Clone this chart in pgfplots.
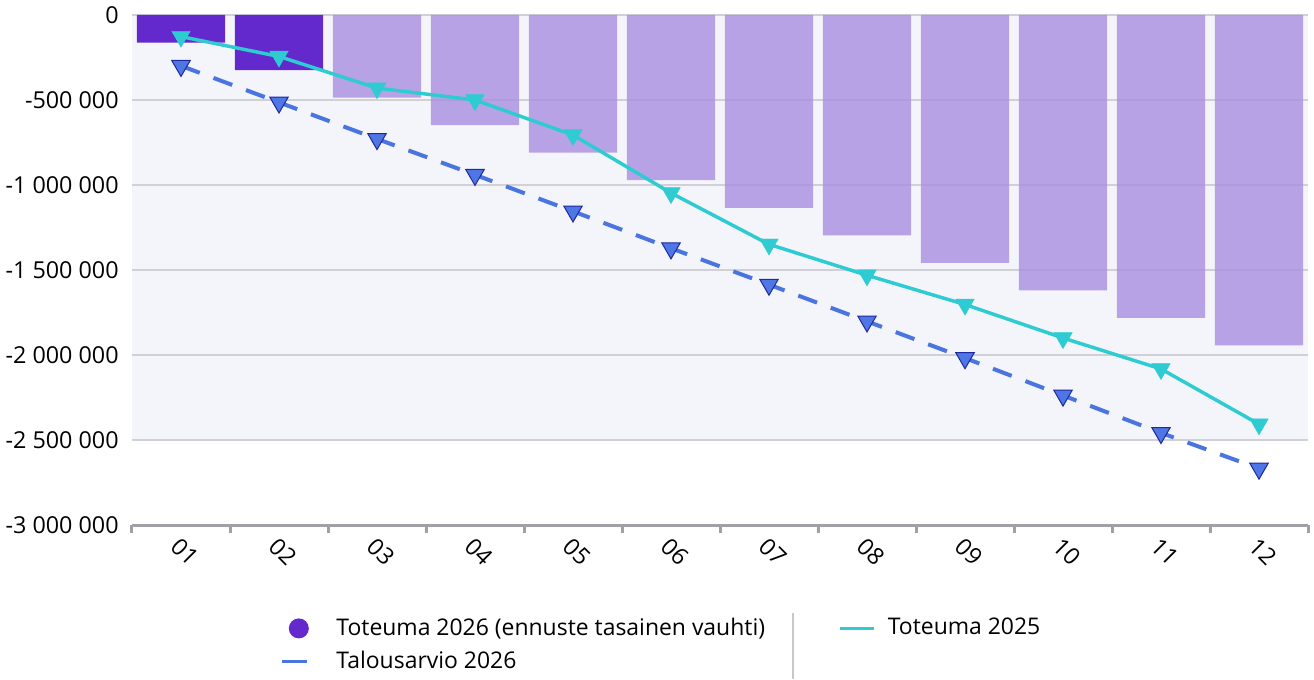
\documentclass[border=0pt]{standalone}
\usepackage{fontspec}
\setmainfont{Open Sans}
\usepackage{pgfplots}
\pgfplotsset{compat=1.18}
\definecolor{purpleD}{RGB}{99,41,204}
\definecolor{purpleL}{RGB}{169,142,225}
\definecolor{cyanC}{RGB}{46,204,210}
\definecolor{blueL}{RGB}{74,116,224}
\definecolor{blueM}{RGB}{78,118,228}
\definecolor{blueE}{RGB}{32,40,160}
\definecolor{gridC}{RGB}{208,208,214}
\definecolor{bgC}{RGB}{244,245,250}
\definecolor{axisC}{RGB}{160,160,166}
\definecolor{sepC}{RGB}{200,200,200}
\begin{document}
\fontsize{17.5}{21}\selectfont
\begin{tikzpicture}
\begin{axis}[
  set layers,
  scale only axis, width=882pt, height=382.5pt,
  xmin=-0.5, xmax=11.5, ymin=-3000000, ymax=0,
  axis lines*=left,
  x axis line style={draw=axisC, line width=2.25pt, -},
  y axis line style={draw=none},
  xtick={0,1,2,3,4,5,6,7,8,9,10,11},
  xticklabels={01,02,03,04,05,06,07,08,09,10,11,12},
  major x tick style={draw=none},
  minor xtick={-0.5,0.5,1.5,2.5,3.5,4.5,5.5,6.5,7.5,8.5,9.5,10.5,11.5},
  minor x tick style={draw=axisC, line width=2.25pt},
  minor tick length=6pt,
  major tick length=0pt,
  tick align=outside,
  xticklabel style={anchor=center, yshift=-20pt, xshift=3pt, rotate=-45},
  ytick={-3000000,-2500000,-2000000,-1500000,-1000000,-500000,0},
  yticklabels={-3 000 000,-2 500 000,-2 000 000,-1 500 000,-1 000 000,-500 000,0},
  ytick style={draw=none},
  yticklabel style={anchor=east, xshift=-4pt},
  ymajorgrids, grid style={draw=gridC, line width=1.5pt},
  legend columns=2,
  legend cell align=left,
  legend style={at={(axis description cs:0.1259,-0.1765)}, anchor=north west,
    draw=none, fill=none, inner sep=0pt, row sep=5pt, font=\fontsize{17.2}{21}\selectfont,
    /tikz/every even column/.append style={column sep=53pt}},
]
\begin{pgfonlayer}{axis background}
\fill[bgC] (axis cs:-0.5,0) rectangle (axis cs:11.5,-2500000);
\end{pgfonlayer}
\addplot[ybar, bar width=0.9, bar shift=0pt, fill=purpleD, draw=none,
  legend image code/.code={\fill[purpleD] (12.75pt,0pt) circle (7.5pt); \path[draw=none, fill=none] (0pt,-8pt) rectangle (39pt,8pt);}]
  coordinates {(0,-162000) (1,-324000)};
\addlegendentry{Toteuma 2026 (ennuste tasainen vauhti)}
\addplot[ybar, bar width=0.9, bar shift=0pt, fill=purpleL, fill opacity=0.8, draw=none, forget plot]
  coordinates {(2,-486000) (3,-648000) (4,-810000) (5,-972000) (6,-1134000) (7,-1296000) (8,-1458000) (9,-1620000) (10,-1782000) (11,-1944000)};
\addplot[cyanC, line width=2.6pt, mark=triangle*, mark size=8pt,
  mark options={solid, rotate=180, fill=cyanC, draw=cyanC, line width=0.3pt},
  legend image code/.code={\draw[cyanC, line width=2.25pt] (0pt,0pt) -- (25.5pt,0pt); \path[draw=none, fill=none] (0pt,-8pt) rectangle (34pt,8pt);}]
  coordinates {(0,-127000) (1,-244000) (2,-430000) (3,-500000) (4,-706000) (5,-1047000) (6,-1349000) (7,-1531000) (8,-1703000) (9,-1900000) (10,-2082000) (11,-2407000)};
\addlegendentry{Toteuma 2025}
\addplot[blueL, line width=3pt, dash pattern=on 15pt off 11pt, mark=triangle*, mark size=8pt,
  mark options={solid, rotate=180, fill=blueM, draw=blueE, line width=0.75pt},
  legend image code/.code={\draw[blueL, solid, line width=2.25pt] (0pt,0pt) -- (18.75pt,0pt); \path[draw=none, fill=none] (0pt,-8pt) rectangle (39pt,8pt);}]
  coordinates {(0,-299000) (1,-514000) (2,-729000) (3,-940000) (4,-1155000) (5,-1372000) (6,-1586000) (7,-1802000) (8,-2018000) (9,-2238000) (10,-2458000) (11,-2668000)};
\addlegendentry{Talousarvio 2026}
\end{axis}
\draw[sepC, line width=1.5pt] (495.75pt,-66pt) -- (495.75pt,-115.5pt);
\pgfresetboundingbox
\useasboundingbox (-99pt,-115.5pt) rectangle (886.5pt,393.75pt);
\end{tikzpicture}
\end{document}
